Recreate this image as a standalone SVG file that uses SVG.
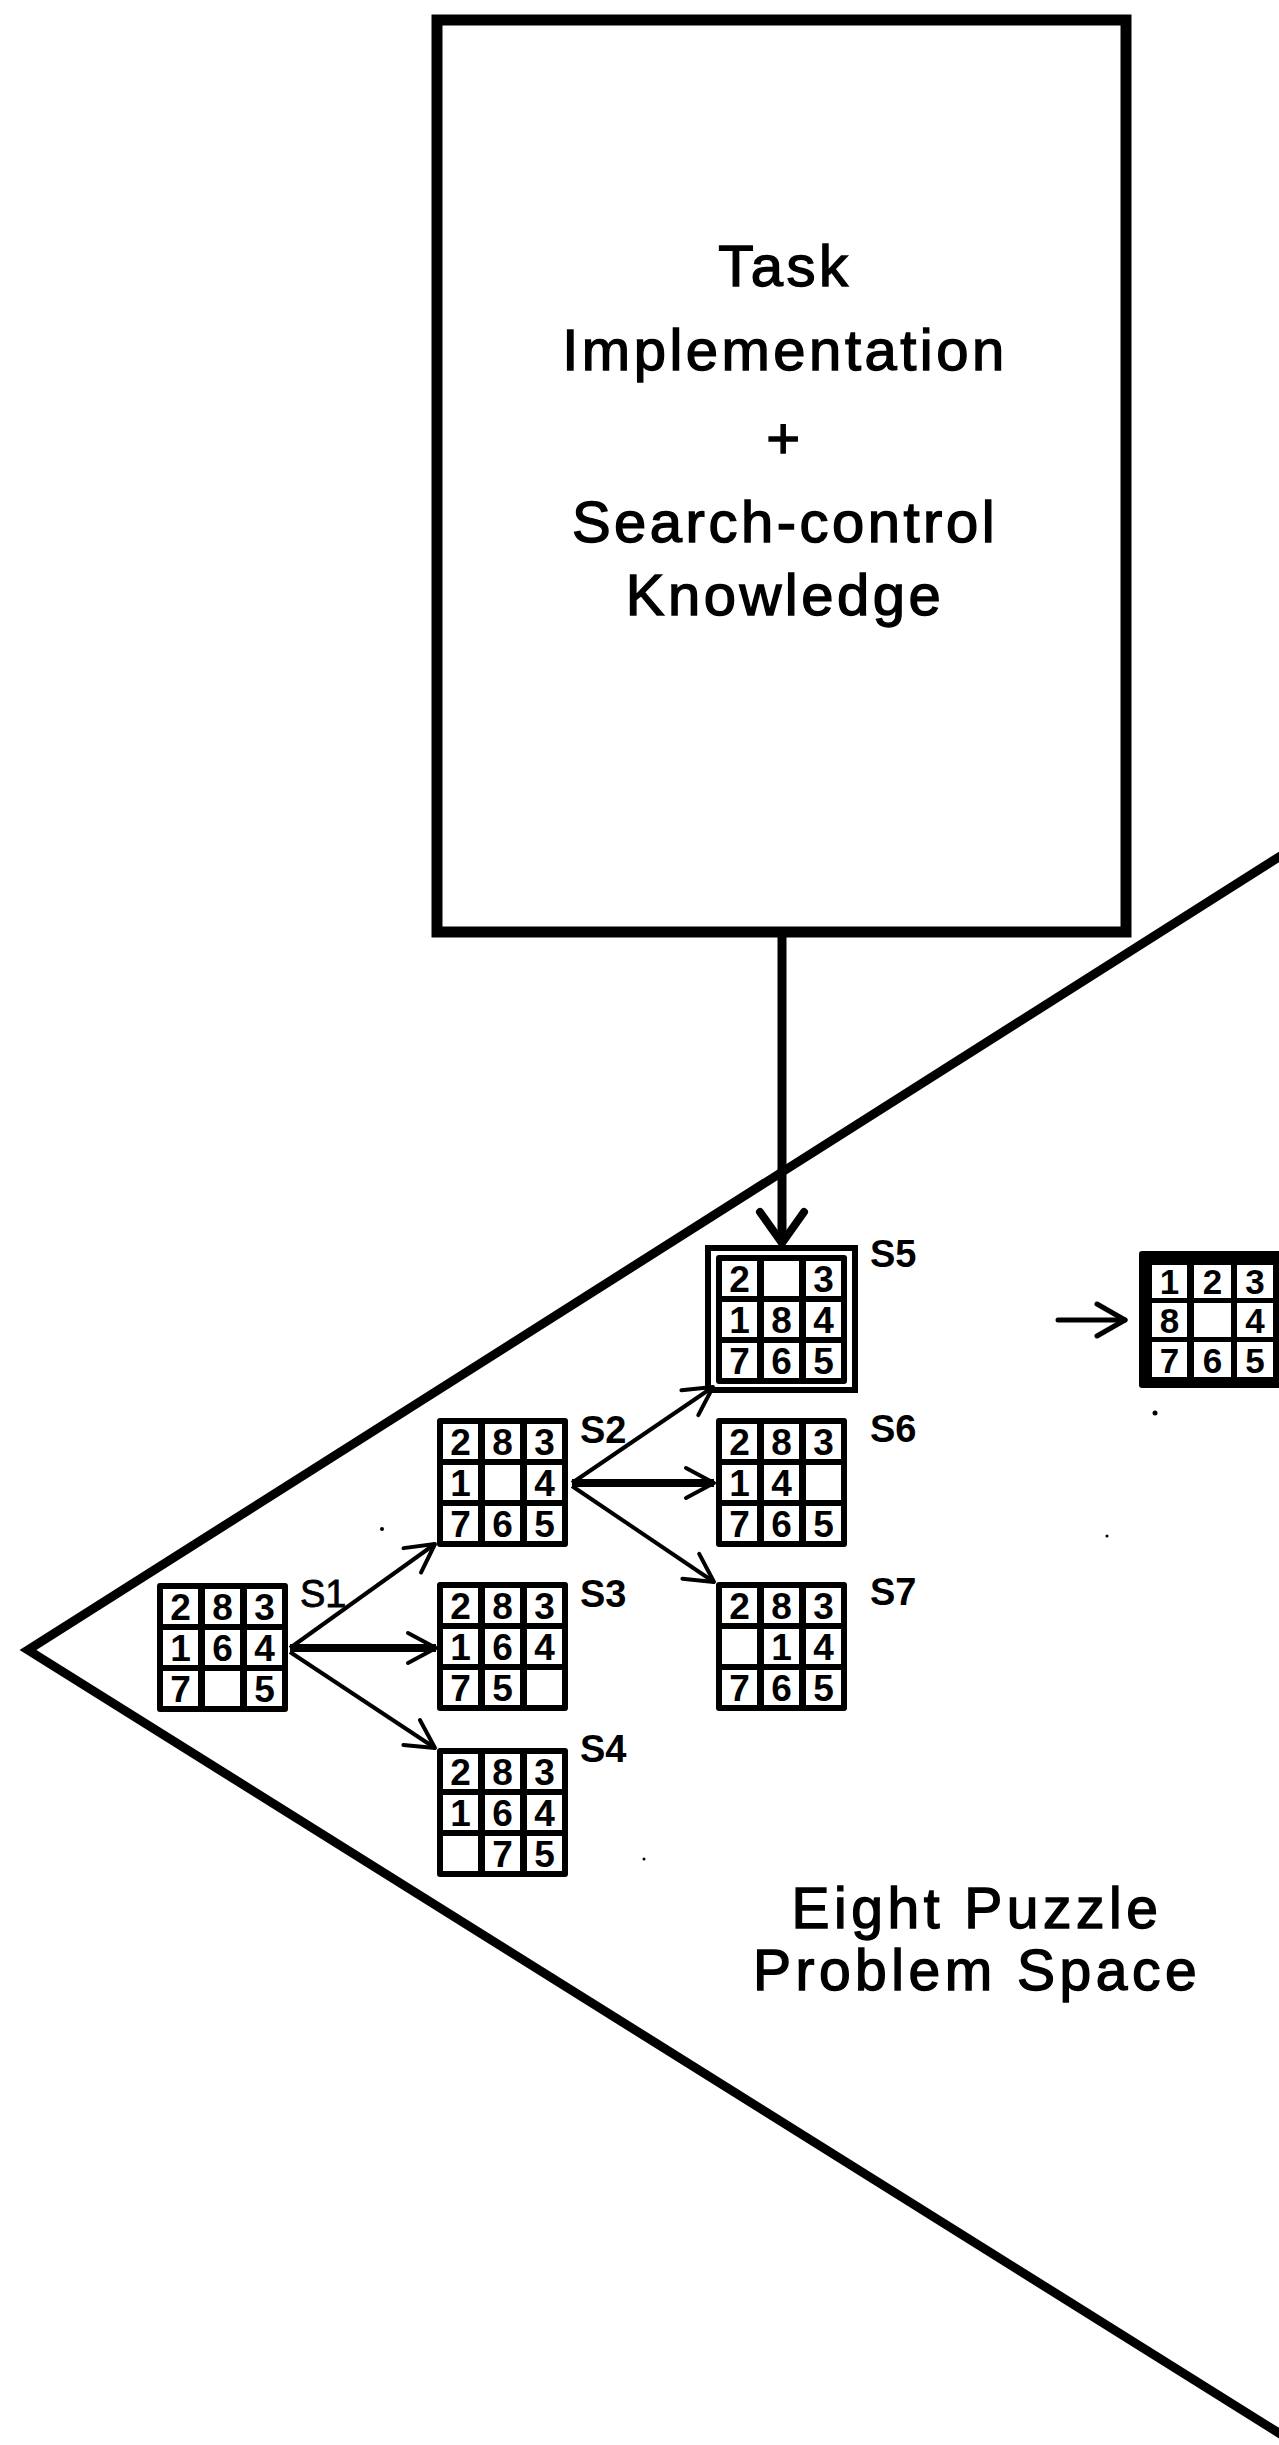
<svg xmlns="http://www.w3.org/2000/svg" xmlns:xlink="http://www.w3.org/1999/xlink" width="1279" height="2445" viewBox="0 0 1279 2445">
<style>
.big{font-family:"Liberation Sans",Arial,sans-serif;font-size:58px;letter-spacing:3.5px;text-anchor:middle;fill:#000;stroke:#000;stroke-width:1.4}
.title{font-family:"Liberation Sans",Arial,sans-serif;font-size:57px;letter-spacing:4.5px;text-anchor:middle;fill:#000;stroke:#000;stroke-width:1.4}
.d{font-family:"Liberation Sans",Arial,sans-serif;font-size:37px;font-weight:bold;text-anchor:middle;fill:#000}
.dg{font-family:"Liberation Sans",Arial,sans-serif;font-size:35px;font-weight:bold;text-anchor:middle;fill:#000}
.lbl{font-family:"Liberation Sans",Arial,sans-serif;font-size:38px;font-weight:bold;fill:#000}
.lbl1{font-family:"Liberation Sans",Arial,sans-serif;font-size:38px;fill:#000;stroke:#000;stroke-width:0.8}
.edge{stroke:#000;fill:none;stroke-width:4}
.edge-thick{stroke:#000;fill:none;stroke-width:8}
</style>
<defs>
<g id="grid">
<rect width="131" height="129" rx="3" fill="#000"/>
<rect x="6" y="6" width="35" height="35" fill="#fff"/>
<rect x="48" y="6" width="35" height="35" fill="#fff"/>
<rect x="90" y="6" width="35" height="35" fill="#fff"/>
<rect x="6" y="47" width="35" height="35" fill="#fff"/>
<rect x="48" y="47" width="35" height="35" fill="#fff"/>
<rect x="90" y="47" width="35" height="35" fill="#fff"/>
<rect x="6" y="88" width="35" height="35" fill="#fff"/>
<rect x="48" y="88" width="35" height="35" fill="#fff"/>
<rect x="90" y="88" width="35" height="35" fill="#fff"/>
</g>
<marker id="arr" markerUnits="userSpaceOnUse" orient="auto" refX="0" refY="0" markerWidth="80" markerHeight="80" overflow="visible">
<path d="M-28,-15 L0,0 L-28,15" fill="none" stroke="#000" stroke-width="4" stroke-linecap="round" stroke-linejoin="round"/>
</marker>
<marker id="arrBig" markerUnits="userSpaceOnUse" orient="auto" refX="0" refY="0" markerWidth="100" markerHeight="100" overflow="visible">
<path d="M-31,-22 L0,0 L-31,22" fill="none" stroke="#000" stroke-width="8" stroke-linecap="round" stroke-linejoin="round"/>
</marker>
<marker id="arrGoal" markerUnits="userSpaceOnUse" orient="auto" refX="0" refY="0" markerWidth="80" markerHeight="80" overflow="visible">
<path d="M-28,-16 L0,0 L-28,16" fill="none" stroke="#000" stroke-width="5" stroke-linecap="round" stroke-linejoin="round"/>
</marker>
</defs>
<rect width="1279" height="2445" fill="#fff"/>

<g id="problem-space">
<polyline points="1290,850 28,1650 1290,2440" fill="none" stroke="#000" stroke-width="9" stroke-linejoin="miter"/>
<text class="title" x="977" y="1928">Eight Puzzle</text>
<text class="title" x="977" y="1990">Problem Space</text>
</g>

<g id="task-box">
<rect x="437" y="20" width="689" height="912" fill="none" stroke="#000" stroke-width="11"/>
<text class="big" x="785" y="286">Task</text>
<text class="big" x="785" y="370">Implementation</text>
<text class="big" x="785" y="458">+</text>
<text class="big" x="785" y="542">Search-control</text>
<text class="big" x="785" y="615">Knowledge</text>
</g>

<g id="connectors">
<line x1="782" y1="934" x2="782" y2="1243" stroke="#000" stroke-width="9" marker-end="url(#arrBig)"/>
<line class="edge" x1="290" y1="1648" x2="435" y2="1544" marker-end="url(#arr)"/>
<line class="edge-thick" x1="290" y1="1648" x2="436" y2="1648" marker-end="url(#arr)"/>
<line class="edge" x1="290" y1="1652" x2="435" y2="1748" marker-end="url(#arr)"/>
<line class="edge" x1="572" y1="1483" x2="713" y2="1387" marker-end="url(#arr)"/>
<line class="edge-thick" x1="572" y1="1483" x2="714" y2="1483" marker-end="url(#arr)"/>
<line class="edge" x1="572" y1="1486" x2="714" y2="1582" marker-end="url(#arr)"/>
<line x1="1058" y1="1320" x2="1125" y2="1320" stroke="#000" stroke-width="5" stroke-linecap="round" marker-end="url(#arrGoal)"/>
</g>

<g id="S1" transform="translate(157,1583)">
<use href="#grid" xlink:href="#grid"/>
<text class="d" x="23.5" y="37">2</text><text class="d" x="65.5" y="37">8</text><text class="d" x="107.5" y="37">3</text>
<text class="d" x="23.5" y="78">1</text><text class="d" x="65.5" y="78">6</text><text class="d" x="107.5" y="78">4</text>
<text class="d" x="23.5" y="119">7</text><text class="d" x="107.5" y="119">5</text>
<text class="lbl1" x="143" y="24">S1</text>
</g>

<g id="S2" transform="translate(437,1418)">
<use href="#grid" xlink:href="#grid"/>
<text class="d" x="23.5" y="37">2</text><text class="d" x="65.5" y="37">8</text><text class="d" x="107.5" y="37">3</text>
<text class="d" x="23.5" y="78">1</text><text class="d" x="107.5" y="78">4</text>
<text class="d" x="23.5" y="119">7</text><text class="d" x="65.5" y="119">6</text><text class="d" x="107.5" y="119">5</text>
<text class="lbl" x="143" y="25">S2</text>
</g>

<g id="S3" transform="translate(437,1582)">
<use href="#grid" xlink:href="#grid"/>
<text class="d" x="23.5" y="37">2</text><text class="d" x="65.5" y="37">8</text><text class="d" x="107.5" y="37">3</text>
<text class="d" x="23.5" y="78">1</text><text class="d" x="65.5" y="78">6</text><text class="d" x="107.5" y="78">4</text>
<text class="d" x="23.5" y="119">7</text><text class="d" x="65.5" y="119">5</text>
<text class="lbl" x="143" y="25">S3</text>
</g>

<g id="S4" transform="translate(437,1748)">
<use href="#grid" xlink:href="#grid"/>
<text class="d" x="23.5" y="37">2</text><text class="d" x="65.5" y="37">8</text><text class="d" x="107.5" y="37">3</text>
<text class="d" x="23.5" y="78">1</text><text class="d" x="65.5" y="78">6</text><text class="d" x="107.5" y="78">4</text>
<text class="d" x="65.5" y="119">7</text><text class="d" x="107.5" y="119">5</text>
<text class="lbl" x="143" y="14">S4</text>
</g>

<g id="S5">
<rect x="708" y="1248" width="147" height="142" fill="none" stroke="#000" stroke-width="6"/>
<g transform="translate(716,1255)">
<use href="#grid" xlink:href="#grid"/>
<text class="d" x="23.5" y="37">2</text><text class="d" x="107.5" y="37">3</text>
<text class="d" x="23.5" y="78">1</text><text class="d" x="65.5" y="78">8</text><text class="d" x="107.5" y="78">4</text>
<text class="d" x="23.5" y="119">7</text><text class="d" x="65.5" y="119">6</text><text class="d" x="107.5" y="119">5</text>
</g>
<text class="lbl" x="870" y="1267">S5</text>
</g>

<g id="S6" transform="translate(716,1418)">
<use href="#grid" xlink:href="#grid"/>
<text class="d" x="23.5" y="37">2</text><text class="d" x="65.5" y="37">8</text><text class="d" x="107.5" y="37">3</text>
<text class="d" x="23.5" y="78">1</text><text class="d" x="65.5" y="78">4</text>
<text class="d" x="23.5" y="119">7</text><text class="d" x="65.5" y="119">6</text><text class="d" x="107.5" y="119">5</text>
<text class="lbl" x="154" y="24">S6</text>
</g>

<g id="S7" transform="translate(716,1582)">
<use href="#grid" xlink:href="#grid"/>
<text class="d" x="23.5" y="37">2</text><text class="d" x="65.5" y="37">8</text><text class="d" x="107.5" y="37">3</text>
<text class="d" x="65.5" y="78">1</text><text class="d" x="107.5" y="78">4</text>
<text class="d" x="23.5" y="119">7</text><text class="d" x="65.5" y="119">6</text><text class="d" x="107.5" y="119">5</text>
<text class="lbl" x="154" y="23">S7</text>
</g>

<g id="goal">
<rect x="1139" y="1251" width="160" height="137" rx="3" fill="#000"/>
<rect x="1152" y="1265" width="35" height="33" fill="#fff"/>
<rect x="1194" y="1265" width="37" height="33" fill="#fff"/>
<rect x="1237" y="1265" width="36" height="33" fill="#fff"/>
<rect x="1152" y="1303" width="35" height="34" fill="#fff"/>
<rect x="1194" y="1303" width="37" height="34" fill="#fff"/>
<rect x="1237" y="1303" width="36" height="34" fill="#fff"/>
<rect x="1152" y="1342" width="35" height="35" fill="#fff"/>
<rect x="1194" y="1342" width="37" height="35" fill="#fff"/>
<rect x="1237" y="1342" width="36" height="35" fill="#fff"/>
<text class="dg" x="1169.5" y="1294">1</text><text class="dg" x="1212.5" y="1294">2</text><text class="dg" x="1255" y="1294">3</text>
<text class="dg" x="1169.5" y="1333">8</text><text class="dg" x="1255" y="1333">4</text>
<text class="dg" x="1169.5" y="1373">7</text><text class="dg" x="1212.5" y="1373">6</text><text class="dg" x="1255" y="1373">5</text>
</g>

<g id="specks" fill="#000">
<circle cx="382" cy="1529" r="2"/>
<circle cx="1155" cy="1413" r="2.5"/>
<circle cx="1107" cy="1536" r="1.5"/>
<circle cx="644" cy="1859" r="1.5"/>
</g>
</svg>
